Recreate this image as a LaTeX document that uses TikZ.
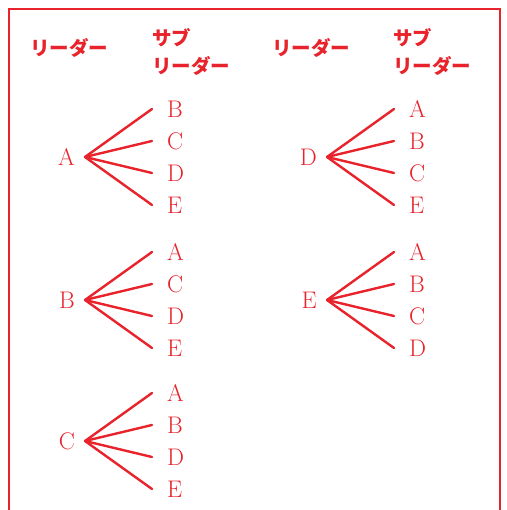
\documentclass[tikz,border=0pt]{standalone}
\usepackage{fontspec}
\newfontfamily\jpfont{Noto Sans CJK JP}
\definecolor{penred}{HTML}{E8232B}

\begin{document}
\begin{tikzpicture}[x=1pt,y=-1pt,color=penred,line cap=round,
  lead/.style={anchor=east,inner xsep=10pt,inner ysep=2pt,font=\fontsize{24}{28}\selectfont},
  sub/.style={anchor=west,inner xsep=15pt,inner ysep=2pt,font=\fontsize{24}{28}\selectfont},
  hdr/.style={inner sep=0pt,font=\jpfont\bfseries\fontsize{19.5}{28}\selectfont},
  link/.style={line width=2.4pt}]
  \useasboundingbox (0,0) rectangle (506,510);
  \fill[white] (0,0) rectangle (506,510);
  \draw[line width=2.6pt,line cap=butt] (9,512) -- (9,9) -- (500,9) -- (500,512);

  % column headings
  \node[hdr] (hlead1) at (69,48) {リーダー};
  \node[hdr,anchor=west,align=left] (hsub1) at (152,52) {サブ\\リーダー};
  \node[hdr] (hlead2) at (311,48) {リーダー};
  \node[hdr,anchor=west,align=left] (hsub2) at (393,52) {サブ\\リーダー};

  % leaders and their sub-leaders
  \foreach \ld/\lx/\ly/\subs in {A/85/157/{B,C,D,E},B/85/300/{A,C,D,E},C/85/441/{A,B,D,E},
                                D/327/157/{A,B,C,E},E/327/300/{A,B,C,D}}{
    \node[lead] (l\ld) at (\lx,\ly) {\ld};
    \foreach \s [count=\i] in \subs {
      \node[sub] (l\ld\s) at (\lx+67,\ly-80+32*\i) {\s};
      \draw[link] (l\ld.east) -- (l\ld\s.west);
    }
  }
\end{tikzpicture}
\end{document}
